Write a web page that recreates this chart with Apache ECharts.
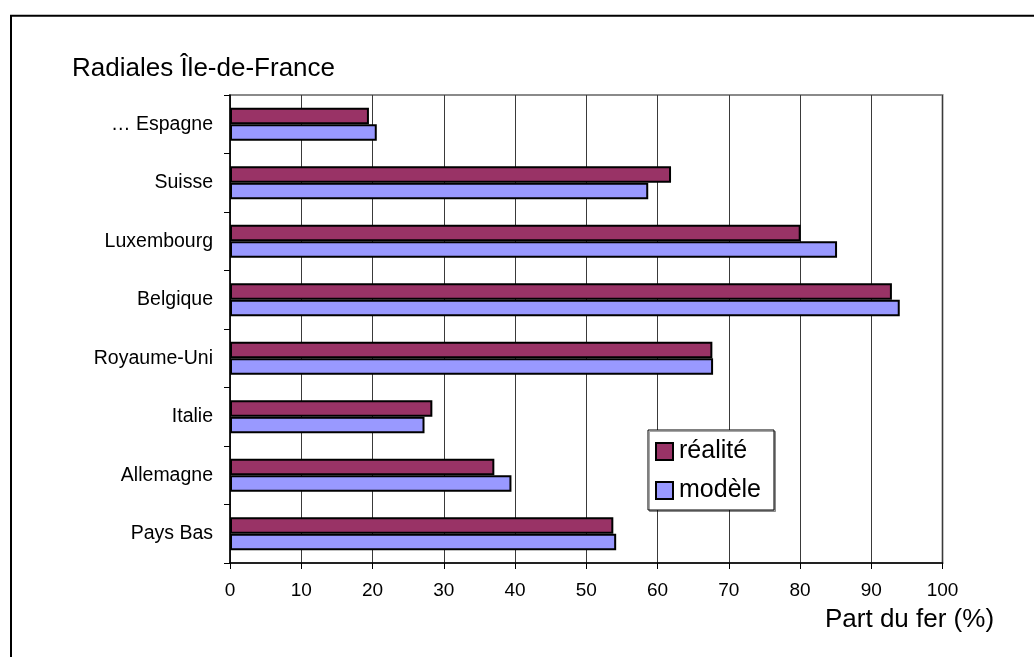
<!DOCTYPE html>
<html>
<head>
<meta charset="utf-8">
<title>Radiales Île-de-France</title>
<script src="https://cdn.jsdelivr.net/npm/echarts@6/dist/echarts.min.js"></script>
<style>
  html, body { margin: 0; padding: 0; background: #ffffff; }
  #chart { width: 1034px; height: 657px; }
</style>
</head>
<body>
<div id="chart"></div>
<script>
// Countries, listed top to bottom
const categories = ['… Espagne', 'Suisse', 'Luxembourg', 'Belgique', 'Royaume-Uni', 'Italie', 'Allemagne', 'Pays Bas'];
// Rail share (%) observed
const realite = [19.5, 61.9, 80.1, 92.9, 67.7, 28.4, 37.1, 53.8];
// Rail share (%) from the model
const modele = [20.6, 58.7, 85.2, 94.0, 67.8, 27.3, 39.5, 54.2];
const xTicks = { min: 0, max: 100, interval: 10 };

const FONT = '"Liberation Sans", Arial, sans-serif';

const chart = echarts.init(document.getElementById('chart'), null, { renderer: 'canvas' });

const barStyle = (color) => ({
  color: color,
  borderColor: '#000000',
  borderWidth: 2
});

chart.setOption({
  animation: false,
  backgroundColor: '#ffffff',
  textStyle: { fontFamily: FONT, color: '#000000' },
  title: {
    text: 'Radiales Île-de-France',
    left: 72,
    top: 56,
    padding: 0,
    textStyle: { fontFamily: FONT, fontSize: 26, fontWeight: 'normal', color: '#000000' }
  },
  legend: {
    orient: 'vertical',
    left: 648,
    top: 430,
    padding: [9, 13, 7, 7],
    itemGap: 14,
    itemWidth: 17,
    itemHeight: 17,
    icon: 'rect',
    backgroundColor: '#ffffff',
    borderColor: '#000000',
    borderWidth: 1,
    shadowColor: 'rgba(0,0,0,0.35)',
    shadowOffsetX: 1.5,
    shadowOffsetY: 1.5,
    textStyle: { fontFamily: FONT, fontSize: 25, color: '#000000', padding: [0, 0, 0, 1] },
    data: ['réalité', 'modèle']
  },
  grid: {
    left: 230,
    right: 91.5,
    top: 95,
    bottom: 94,
    show: true,
    borderColor: '#8a8a8a',
    borderWidth: 2,
    backgroundColor: 'transparent'
  },
  xAxis: {
    type: 'value',
    min: xTicks.min,
    max: xTicks.max,
    interval: xTicks.interval,
    axisLine: { show: true, lineStyle: { color: '#000000', width: 1.5 } },
    axisTick: { show: true, length: 6, lineStyle: { color: '#000000', width: 1 } },
    axisLabel: { fontFamily: FONT, fontSize: 19, color: '#000000', margin: 18 },
    splitLine: { show: true, lineStyle: { color: '#3a3a3a', width: 1 } }
  },
  yAxis: {
    type: 'category',
    inverse: true,
    data: categories,
    axisLine: { show: true, lineStyle: { color: '#000000', width: 1.5 } },
    axisTick: { show: true, length: 6, lineStyle: { color: '#000000', width: 1 } },
    axisLabel: { fontFamily: FONT, fontSize: 19.5, color: '#000000', margin: 17 },
    splitLine: { show: false }
  },
  series: [
    {
      name: 'réalité',
      type: 'bar',
      data: realite,
      barWidth: 16.5,
      barGap: '0%',
      itemStyle: barStyle('#993366')
    },
    {
      name: 'modèle',
      type: 'bar',
      data: modele,
      barWidth: 16.5,
      barGap: '0%',
      itemStyle: barStyle('#9999ff')
    }
  ],
  graphic: [
    {
      type: 'rect',
      silent: true,
      z: -10,
      shape: { x: 11, y: 15.7, width: 1200, height: 800 },
      style: { fill: 'none', stroke: '#000000', lineWidth: 2 }
    },
    {
      type: 'text',
      silent: true,
      left: 825,
      top: 607,
      style: {
        text: 'Part du fer (%)',
        font: '26px "Liberation Sans", Arial, sans-serif',
        fill: '#000000'
      }
    }
  ]
});
</script>
</body>
</html>
